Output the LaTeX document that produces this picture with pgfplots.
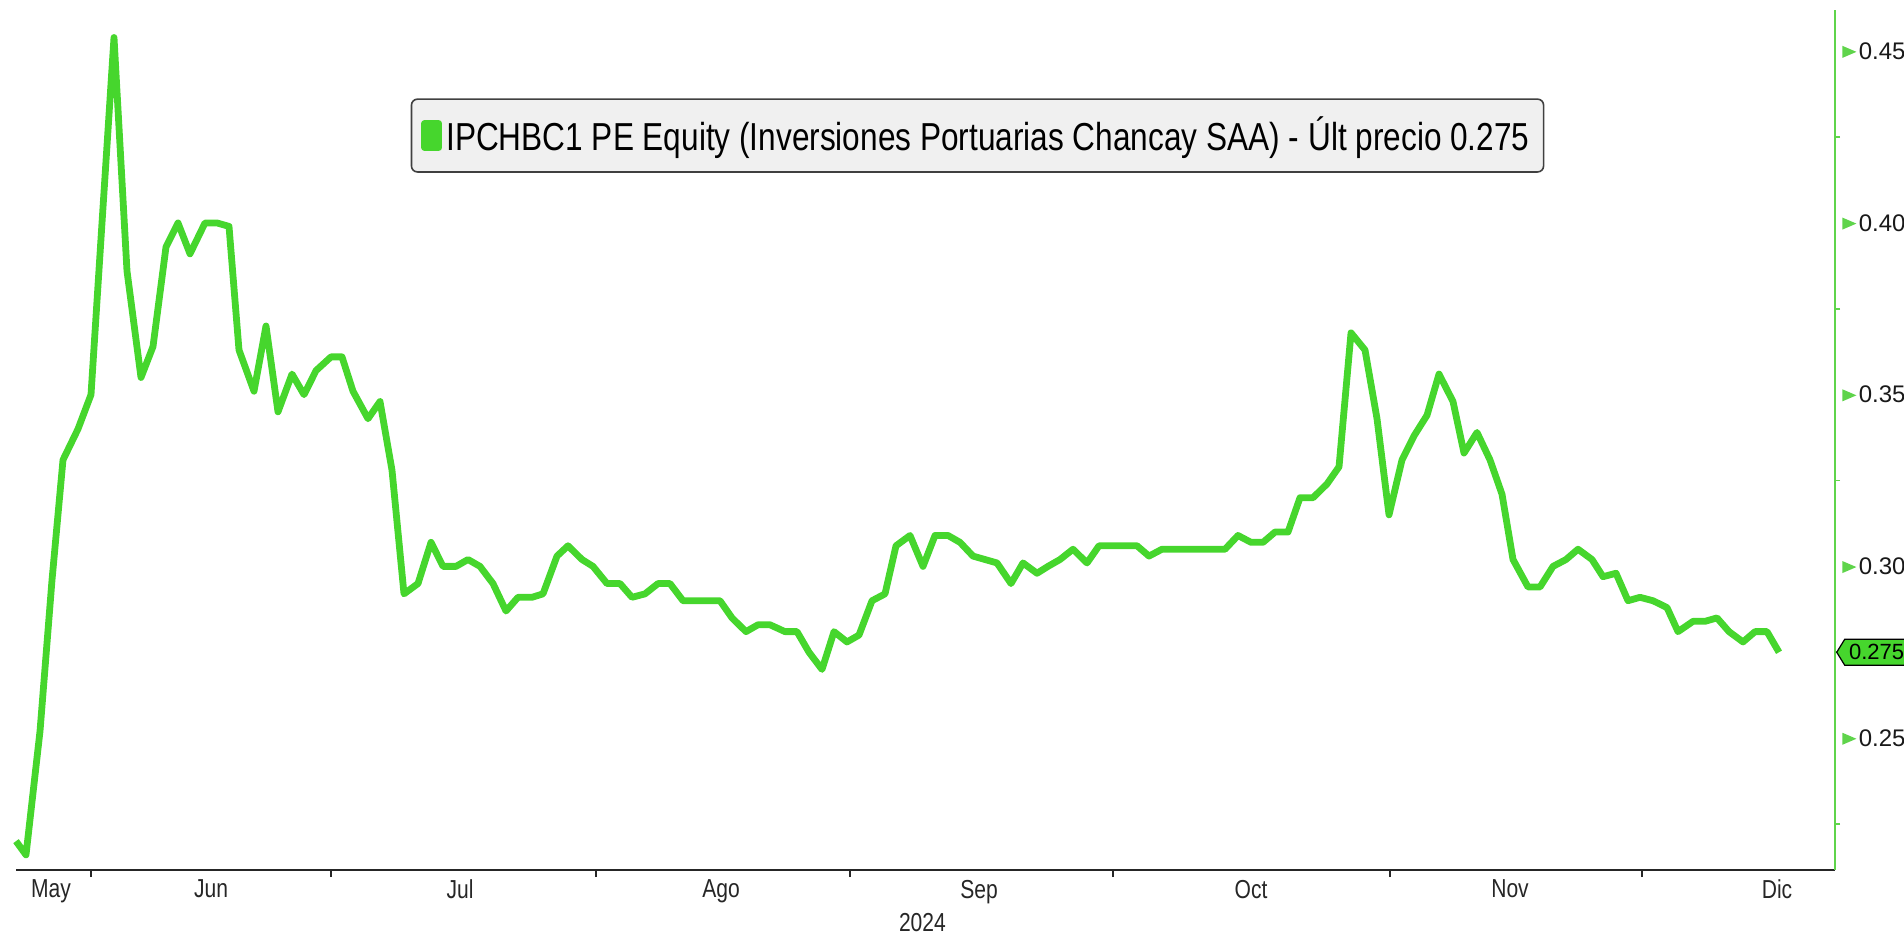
\documentclass[border=0pt]{standalone}
\usepackage{pgfplots}
\pgfplotsset{compat=1.18}
\usepackage{fontspec}
\setmainfont{Liberation Sans}
\newfontfamily\narrowfont{Liberation Sans}[FakeStretch=0.81]
\definecolor{bbgreen}{RGB}{70,214,45}
\definecolor{axgreen}{RGB}{95,212,75}
\definecolor{legbg}{RGB}{240,240,240}
\begin{document}
\begin{tikzpicture}
\begin{axis}[
  at={(8pt,31.5pt)}, anchor=south west,
  width=909.5pt, height=430pt, scale only axis,
  xmin=16, xmax=1835, ymin=0.2116, ymax=0.462,
  clip=false,
  /pgf/number format/assume math mode=true,
  axis x line*=bottom, axis y line*=right,
  x axis line style={draw=black!85, line width=1pt, -},
  y axis line style={draw=axgreen, line width=0.8pt, -},
  tick align=outside,
  major tick length=3.5pt, minor tick length=2.5pt,
  xtick={91,331,596,850,1113,1390,1642},
  xticklabels={,,,,,,},
  x tick style={draw=black!85, line width=0.8pt},
  extra x ticks={51,211,460,721,979,1251,1510,1777},
  extra x tick labels={May,Jun,Jul,Ago,Sep,Oct,Nov,Dic},
  extra x tick style={major tick length=0pt, tick style={draw=none}},
  xticklabel style={font=\narrowfont\fontsize{13}{15}\selectfont, text=black!85, yshift=-1.5pt},
  xlabel={2024},
  xlabel style={font=\narrowfont\fontsize{13}{15}\selectfont, text=black!85, at={(axis description cs:0.4983,0)}, anchor=north, yshift=-18pt},
  ytick={0.25,0.30,0.35,0.40,0.45},
  minor ytick={0.225,0.275,0.325,0.375,0.425},
  yticklabel pos=right,
  y tick style={draw=axgreen, line width=0.8pt},
  major y tick style={draw=none},
  yticklabel style={anchor=west, inner xsep=0pt, font=\fontsize{12}{14}\selectfont, text=black!90},
  yticklabel={\tikz[baseline=-0.6ex]\fill[axgreen, sharp corners](0pt,3pt)--(7pt,0pt)--(0pt,-3pt)--cycle;\hspace{1.2pt}\pgfmathprintnumber[fixed,fixed zerofill,precision=2]{\tick}},
  legend style={at={(0.5286,0.854)}, anchor=center, fill=legbg, draw=black!75, line width=0.8pt, rounded corners=3pt, font=\narrowfont\fontsize{19.5}{22}\selectfont, inner xsep=5pt, inner ysep=7pt},
  legend cell align=left,
  legend image code/.code={\fill[bbgreen, sharp corners] (0.5pt,-6pt) rectangle (7.5pt,6pt);},
]
\addplot[bbgreen, line width=3.4pt, line join=round] coordinates {
(16,0.220)(26,0.216)(40,0.252)(52,0.296)(63,0.331)(78,0.340)(91,0.350)(102,0.400)(114,0.454)(127,0.386)(141,0.355)(153,0.364)(166,0.393)(178,0.400)(190,0.391)(205,0.400)(217,0.400)(229,0.399)(239,0.363)(254,0.351)(266,0.370)(278,0.345)(292,0.356)
(304,0.350)(316,0.357)(331,0.361)(342,0.361)(353,0.351)(368,0.343)(380,0.348)(392,0.328)(404,0.292)(418,0.295)(431,0.307)(443,0.300)(456,0.300)(468,0.302)(480,0.300)(493,0.295)(506,0.287)(518,0.291)(532,0.291)(543,0.292)(557,0.303)(568,0.306)(582,0.302)(593,0.300)(607,0.295)(620,0.295)(632,0.291)(645,0.292)(658,0.295)(670,0.295)
(683,0.290)(695,0.290)(707,0.290)(720,0.290)(732,0.285)(746,0.281)(758,0.283)(770,0.283)(785,0.281)(797,0.281)(809,0.275)(822,0.270)(834,0.281)(847,0.278)(859,0.280)(872,0.290)(885,0.292)(896,0.306)(910,0.309)(923,0.300)(935,0.309)(948,0.309)(960,0.307)(973,0.303)(985,0.302)(997,0.301)(1011,0.295)(1023,0.301)(1037,0.298)(1048,0.300)(1060,0.302)(1073,0.305)
(1087,0.301)(1099,0.306)(1112,0.306)(1124,0.306)(1137,0.306)(1149,0.303)(1162,0.305)(1175,0.305)(1187,0.305)(1200,0.305)(1213,0.305)(1225,0.305)(1238,0.309)(1251,0.307)(1263,0.307)(1275,0.310)(1288,0.310)(1300,0.320)(1313,0.320)(1327,0.324)(1339,0.329)(1351,0.368)(1365,0.363)(1377,0.343)(1389,0.315)(1402,0.331)(1414,0.338)(1427,0.344)(1439,0.356)(1453,0.348)(1464,0.333)(1477,0.339)
(1490,0.331)(1502,0.321)(1513,0.302)(1528,0.294)(1540,0.294)(1553,0.300)(1566,0.302)(1578,0.305)(1592,0.302)(1603,0.297)(1616,0.298)(1628,0.290)(1640,0.291)(1653,0.290)(1667,0.288)(1678,0.281)(1693,0.284)(1705,0.284)(1717,0.285)(1729,0.281)(1743,0.278)(1755,0.281)(1767,0.281)(1779,0.275)
};
\addlegendentry{IPCHBC1 PE Equity (Inversiones Portuarias Chancay SAA) - Últ precio 0.275}
\coordinate (lab) at (axis cs:1836.7,0.275);
\end{axis}
\draw[fill=bbgreen, draw=black, line width=0.6pt, line join=miter] (lab) -- ++(4pt,6.5pt) -- ++(60pt,0pt) -- ++(0pt,-13pt) -- ++(-60pt,0pt) -- cycle;
\node[anchor=west, inner sep=0pt, font=\fontsize{11}{13}\selectfont, text=black] at ([xshift=6pt]lab) {0.275};
\pgfresetboundingbox
\path[use as bounding box] (0,0) rectangle (952pt,466.5pt);
\end{tikzpicture}
\end{document}
